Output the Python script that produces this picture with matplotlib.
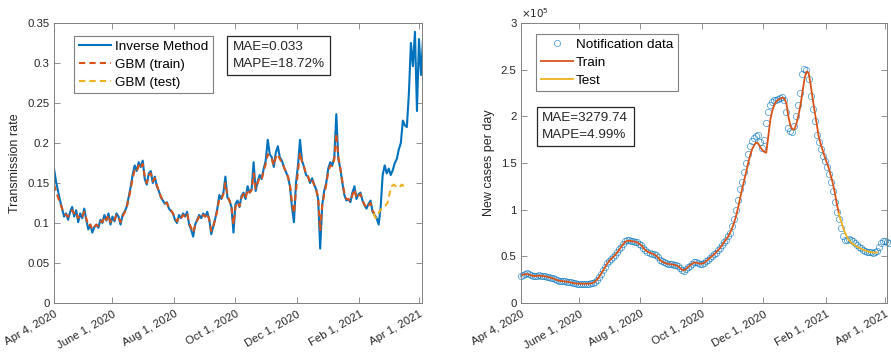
import pandas as pd
import matplotlib
matplotlib.use('Agg')
import matplotlib.pyplot as plt
from matplotlib.ticker import FuncFormatter

plt.rcParams['font.family'] = ['Liberation Sans', 'DejaVu Sans']

# ---- data ----
start = '2020-04-04'

# left panel: transmission rate, one value every 2 days
inverse_rate = [
    0.168, 0.152, 0.140, 0.128, 0.118, 0.108, 0.112, 0.104, 0.114, 0.120,
    0.108, 0.116, 0.101, 0.112, 0.106, 0.118, 0.104, 0.092, 0.098, 0.088,
    0.095, 0.098, 0.094, 0.104, 0.100, 0.110, 0.103, 0.112, 0.098, 0.108,
    0.102, 0.112, 0.108, 0.098, 0.110, 0.114, 0.120, 0.132, 0.145, 0.160,
    0.172, 0.165, 0.176, 0.170, 0.178, 0.155, 0.148, 0.162, 0.165, 0.150,
    0.158, 0.146, 0.140, 0.132, 0.128, 0.124, 0.126, 0.118, 0.115, 0.112,
    0.104, 0.100, 0.110, 0.106, 0.112, 0.108, 0.114, 0.098, 0.092, 0.083,
    0.098, 0.104, 0.110, 0.106, 0.112, 0.108, 0.114, 0.104, 0.086, 0.096,
    0.106, 0.118, 0.135, 0.130, 0.138, 0.158, 0.132, 0.128, 0.120, 0.088,
    0.124, 0.128, 0.120, 0.134, 0.138, 0.130, 0.146, 0.138, 0.142, 0.176,
    0.140, 0.152, 0.160, 0.155, 0.168, 0.178, 0.204, 0.186, 0.182, 0.170,
    0.188, 0.196, 0.182, 0.178, 0.170, 0.164, 0.158, 0.146, 0.120, 0.101,
    0.150, 0.172, 0.204, 0.178, 0.170, 0.160, 0.158, 0.150, 0.156, 0.148,
    0.142, 0.130, 0.068, 0.122, 0.140, 0.150, 0.168, 0.176, 0.172, 0.182,
    0.236, 0.180, 0.168, 0.150, 0.135, 0.128, 0.130, 0.126, 0.138, 0.146,
    0.130, 0.136, 0.138, 0.128, 0.122, 0.118, 0.124, 0.128, 0.114, 0.110,
    0.106, 0.098, 0.120, 0.160, 0.172, 0.162, 0.168, 0.160, 0.166, 0.175,
    0.180, 0.192, 0.200, 0.228, 0.222, 0.220, 0.262, 0.325, 0.296, 0.339,
    0.240, 0.330, 0.285, 0.330,
]
gbm_train = [
    0.148, 0.140, 0.132, 0.125, 0.118, 0.112, 0.110, 0.108, 0.112, 0.116,
    0.112, 0.114, 0.106, 0.110, 0.108, 0.114, 0.106, 0.096, 0.098, 0.092,
    0.095, 0.098, 0.096, 0.102, 0.101, 0.108, 0.104, 0.110, 0.101, 0.106,
    0.104, 0.110, 0.108, 0.101, 0.108, 0.113, 0.119, 0.130, 0.142, 0.156,
    0.166, 0.164, 0.172, 0.168, 0.174, 0.158, 0.150, 0.160, 0.162, 0.152,
    0.156, 0.147, 0.140, 0.133, 0.128, 0.125, 0.125, 0.119, 0.116, 0.112,
    0.106, 0.102, 0.108, 0.106, 0.110, 0.108, 0.112, 0.100, 0.094, 0.088,
    0.097, 0.103, 0.108, 0.106, 0.110, 0.108, 0.112, 0.104, 0.090, 0.096,
    0.105, 0.116, 0.131, 0.130, 0.136, 0.150, 0.134, 0.128, 0.121, 0.098,
    0.120, 0.126, 0.121, 0.132, 0.136, 0.131, 0.142, 0.138, 0.141, 0.162,
    0.143, 0.150, 0.157, 0.155, 0.165, 0.174, 0.186, 0.182, 0.180, 0.172,
    0.182, 0.186, 0.180, 0.176, 0.170, 0.164, 0.158, 0.148, 0.126, 0.112,
    0.140, 0.165, 0.188, 0.176, 0.170, 0.161, 0.158, 0.151, 0.154, 0.148,
    0.142, 0.132, 0.090, 0.122, 0.136, 0.148, 0.164, 0.172, 0.171, 0.180,
    0.212, 0.182, 0.168, 0.152, 0.137, 0.130, 0.130, 0.127, 0.135, 0.142,
    0.131, 0.134, 0.136, 0.128, 0.123, 0.119, 0.122, 0.125, 0.115, 0.112,
]
gbm_test_start = '2021-02-15'
gbm_test = [
    0.112, 0.106, 0.110, 0.115, 0.118, 0.120, 0.122, 0.126, 0.138, 0.146,
    0.148, 0.146, 0.147, 0.145, 0.148, 0.146,
]

# right panel: new cases per day, one value every 2 days
notified = [
    28500, 30000, 31500, 32000, 31000, 30000, 29000, 28600, 28800, 29500,
    29200, 29000, 28500, 28200, 27800, 27200, 26500, 25500, 24500, 24000,
    23600, 23400, 23200, 22800, 22500, 22000, 21500, 21000, 20800, 20700,
    20600, 20600, 20700, 20600, 20700, 21000, 21500, 23000, 25000, 28000,
    31500, 35000, 39000, 42500, 45500, 47500, 49500, 51500, 54500, 57500,
    60500, 63500, 66000, 67000, 67000, 66500, 66000, 65800, 65000, 63500,
    62000, 59000, 56500, 55000, 54000, 53000, 52500, 51000, 49500, 46500,
    44500, 43500, 42500, 42000, 41800, 41500, 41000, 40500, 40000, 38000,
    35500, 34500, 36000, 38500, 40000, 42000, 43500, 43500, 43000, 42000,
    42000, 43000, 44500, 46500, 48500, 50500, 52000, 54000, 56500, 59000,
    62000, 65000, 68000, 71500, 75500, 82000, 90000, 100000, 110000, 122000,
    130000, 140000, 150000, 160000, 168000, 174000, 177000, 179000, 180000, 172000,
    166000, 175000, 193000, 205000, 212000, 215000, 217000, 218000, 219000, 220000,
    221000, 218000, 205000, 188000, 184000, 183000, 190000, 200000, 212000, 225000,
    245000, 251000, 250000, 240000, 222000, 208000, 195000, 180000, 172000, 165000,
    158000, 152000, 146000, 138000, 130000, 120000, 108000, 98000, 90000, 80000,
    72000, 67000, 68000, 69000, 68000, 66000, 64000, 62000, 60000, 58500,
    57000, 56000, 55000, 54500, 54500, 54000, 54500, 56000, 60000, 64000,
    66500, 66000, 65000, 64500,
]
train_fit = [
    29500, 30200, 30800, 31000, 30500, 29800, 29200, 28900, 29000, 29300,
    29200, 28900, 28500, 28100, 27700, 27100, 26400, 25500, 24600, 24000,
    23600, 23400, 23100, 22800, 22400, 21900, 21400, 21000, 20800, 20700,
    20600, 20600, 20600, 20600, 20700, 21000, 21700, 23000, 25200, 28200,
    31600, 35000, 38800, 42300, 45200, 47400, 49400, 51500, 54300, 57300,
    60300, 63200, 65600, 66600, 66700, 66300, 65900, 65500, 64800, 63300,
    61600, 59000, 56600, 55100, 54000, 53100, 52400, 51000, 49300, 46700,
    44600, 43500, 42600, 42000, 41700, 41400, 41000, 40400, 39700, 37900,
    35700, 35000, 36200, 38300, 40000, 41800, 43200, 43300, 42800, 42100,
    42100, 43000, 44500, 46400, 48400, 50300, 52000, 54000, 56300, 58800,
    61800, 64700, 67700, 71000, 75000, 80000, 86000, 93000, 102000, 112000,
    122000, 131000, 140000, 150000, 158000, 165000, 169000, 172000, 171000, 167000,
    164000, 162000, 161000, 178000, 196000, 206000, 212000, 216000, 218000, 219000,
    220000, 219000, 214000, 200000, 190000, 186000, 186000, 192000, 201000, 212000,
    226000, 240000, 248000, 247000, 235000, 220000, 206000, 193000, 179000, 171000,
    164000, 157000, 151000, 145000, 137000, 129000, 119000, 107000, 97000,
]
test_start = '2021-02-14'
test_fit = [
    96000, 89000, 82000, 76000, 71000, 67500, 65000, 63200, 61800, 60400,
    59300, 58300, 57300, 56400, 55700, 55000, 54500, 54200, 54000, 54000,
]

tick_dates = ['2020-04-04', '2020-06-01', '2020-08-01', '2020-10-01',
              '2020-12-01', '2021-02-01', '2021-04-01']
tick_labels = ['Apr 4, 2020', 'June 1, 2020', 'Aug 1, 2020', 'Oct 1, 2020',
               'Dec 1, 2020', 'Feb 1, 2021', 'Apr 1, 2021']

# MATLAB default colours
c_blue = '#0072BD'
c_orange = '#D95319'
c_yellow = '#EDB120'
c_axis = '#808080'
c_text = '#262626'


def style_axes(ax, xmax):
    ax.set_xlim(pd.Timestamp(start), pd.Timestamp(xmax))
    ax.set_xticks([pd.Timestamp(d) for d in tick_dates])
    ax.set_xticklabels(tick_labels, rotation=30, ha='right',
                       rotation_mode='anchor')
    ax.tick_params(direction='in', length=4, width=0.6, top=True, right=True,
                   labelsize=8.2, colors=c_axis, labelcolor=c_text, pad=3)
    ax.tick_params(axis='x', pad=4)
    for s in ax.spines.values():
        s.set_color(c_axis)
        s.set_linewidth(0.7)


def add_legend(ax, anchor, textpad):
    leg = ax.legend(loc='upper left', bbox_to_anchor=anchor,
                    borderaxespad=0, fontsize=9.7, handlelength=2.4,
                    handletextpad=textpad, labelspacing=0.4, borderpad=0.35,
                    fancybox=False, framealpha=1, edgecolor=c_axis)
    leg.get_frame().set_linewidth(0.8)
    return leg


fig = plt.figure(figsize=(8.91, 3.52), dpi=100)

# ---- left panel ----
ax1 = fig.add_axes([54 / 891, 49 / 352, 368 / 891, 280 / 352])
d_inv = pd.date_range(start, periods=len(inverse_rate), freq='2D')
d_trn = pd.date_range(start, periods=len(gbm_train), freq='2D')
d_tst = pd.date_range(gbm_test_start, periods=len(gbm_test), freq='2D')
ax1.plot(d_inv, inverse_rate, color=c_blue, lw=1.5, label='Inverse Method')
ax1.plot(d_trn, gbm_train, color=c_orange, lw=1.5, ls=(0, (3, 2)),
         label='GBM (train)')
ax1.plot(d_tst, gbm_test, color=c_yellow, lw=1.5, ls=(0, (3, 2)),
         label='GBM (test)')
ax1.set_ylim(0, 0.35)
ax1.set_yticks([0, 0.05, 0.1, 0.15, 0.2, 0.25, 0.3, 0.35])
ax1.yaxis.set_major_formatter(FuncFormatter(lambda v, p: f'{v:g}'))
ax1.set_ylabel('Transmission rate', fontsize=9, color=c_text, labelpad=5)
style_axes(ax1, '2021-04-04')
add_legend(ax1, (0.054, 0.954), 0.3)
ax1.text(0.485, 0.934, 'MAE=0.033\nMAPE=18.72%', transform=ax1.transAxes,
         ha='left', va='top', fontsize=9.7, color=c_text, linespacing=1.5,
         bbox=dict(boxstyle='square,pad=0.4', fc='white', ec='#262626', lw=0.9))

# ---- right panel ----
ax2 = fig.add_axes([520.7 / 891, 49 / 352, 366.3 / 891, 280 / 352])
d_not = pd.date_range(start, periods=len(notified), freq='2D')
d_fit = pd.date_range(start, periods=len(train_fit), freq='2D')
d_tfit = pd.date_range(test_start, periods=len(test_fit), freq='2D')
ax2.plot(d_not, notified, ls='none', marker='o', ms=4.5, mfc='none',
         mec=c_blue, mew=0.5, alpha=0.75, label='Notification data',
         clip_on=False)
ax2.plot(d_fit, train_fit, color=c_orange, lw=1.3, label='Train')
ax2.plot(d_tfit, test_fit, color=c_yellow, lw=1.3, label='Test')
ax2.set_ylim(0, 3e5)
ax2.set_yticks([0, 0.5e5, 1e5, 1.5e5, 2e5, 2.5e5, 3e5])
ax2.yaxis.set_major_formatter(FuncFormatter(lambda v, p: f'{v / 1e5:g}'))
ax2.set_ylabel('New cases per day', fontsize=9, color=c_text, labelpad=4)
style_axes(ax2, '2021-04-03')
ax2.text(0.0, 1.012, r'$\times10^5$', transform=ax2.transAxes, ha='left',
         va='bottom', fontsize=7.5, color=c_text)
add_legend(ax2, (0.042, 0.961), 0.2)
ax2.text(0.059, 0.681, 'MAE=3279.74\nMAPE=4.99%', transform=ax2.transAxes,
         ha='left', va='top', fontsize=9.7, color=c_text, linespacing=1.5,
         bbox=dict(boxstyle='square,pad=0.4', fc='white', ec='#262626', lw=0.9))

fig.savefig('out.png', dpi=100)
